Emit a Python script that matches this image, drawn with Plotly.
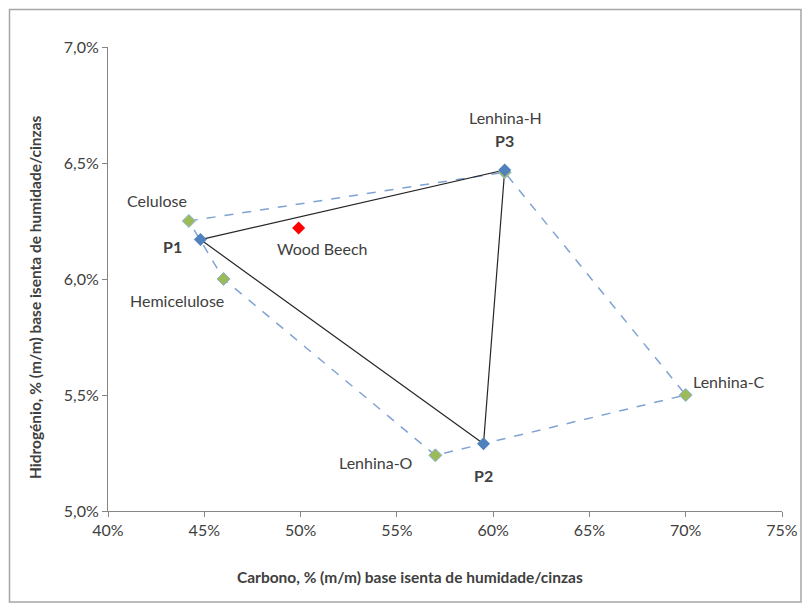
import plotly.graph_objects as go

# Components (green diamonds)
comp_names = ["Celulose", "Hemicelulose", "Lenhina-O", "Lenhina-C", "Lenhina-H"]
comp_c = [0.442, 0.460, 0.570, 0.700, 0.606]
comp_h = [0.0625, 0.0600, 0.0524, 0.0550, 0.0646]

# Polygon order of the dashed envelope
poly_order = ["Celulose", "Lenhina-H", "Lenhina-C", "Lenhina-O", "Hemicelulose", "Celulose"]

# Pseudo-components (blue diamonds)
p_names = ["P1", "P3", "P2"]
p_c = [0.448, 0.606, 0.595]
p_h = [0.0617, 0.0647, 0.0529]

# Sample
wb_name = ["Wood Beech"]
wb_c = [0.499]
wb_h = [0.0622]

x_ticks = [0.40, 0.45, 0.50, 0.55, 0.60, 0.65, 0.70, 0.75]
y_ticks = [0.050, 0.055, 0.060, 0.065, 0.070]

FONT = "Lato, 'Open Sans', sans-serif"

idx = {n: i for i, n in enumerate(comp_names)}
poly_x = [comp_c[idx[n]] for n in poly_order]
poly_y = [comp_h[idx[n]] for n in poly_order]

fig = go.Figure()
fig.add_trace(go.Scatter(x=poly_x, y=poly_y, mode="lines",
                         line=dict(color="#7FA3D3", width=1.5, dash="dash"),
                         hoverinfo="skip", showlegend=False))
fig.add_trace(go.Scatter(x=p_c + [p_c[0]], y=p_h + [p_h[0]], mode="lines",
                         line=dict(color="#262626", width=1.2),
                         hoverinfo="skip", showlegend=False))
fig.add_trace(go.Scatter(x=comp_c, y=comp_h, mode="markers",
                         marker=dict(symbol="diamond", size=10, color="#9BBB59",
                                     line=dict(color="#8FB0D8", width=1)),
                         showlegend=False))
fig.add_trace(go.Scatter(x=wb_c, y=wb_h, mode="markers",
                         marker=dict(symbol="diamond", size=10, color="#FF0000",
                                     line=dict(color="#FF0000", width=0)),
                         showlegend=False))
fig.add_trace(go.Scatter(x=p_c, y=p_h, mode="markers",
                         marker=dict(symbol="diamond", size=10, color="#4F81BD",
                                     line=dict(color="#4F81BD", width=0)),
                         showlegend=False))

# Label offsets (pixels): name -> (xshift, yshift, bold)
offsets = {
    "Celulose": (-32, 21, False),
    "Hemicelulose": (-47, -21, False),
    "Lenhina-O": (-59, -7, False),
    "Lenhina-C": (43, 14, False),
    "Lenhina-H": (1, 55, False),
    "P1": (-28, -7, True),
    "P3": (0, 29, True),
    "P2": (0, -32, True),
    "Wood Beech": (24, -21, False),
}
annotations = []
all_pts = list(zip(comp_names, comp_c, comp_h)) + list(zip(p_names, p_c, p_h)) + list(zip(wb_name, wb_c, wb_h))
for n, xv, yv in all_pts:
    dx, dy, b = offsets[n]
    annotations.append(dict(x=xv, y=yv, xref="x", yref="y", text=f"<b>{n}</b>" if b else n,
                            showarrow=False, xshift=dx, yshift=dy,
                            xanchor="center", yanchor="middle",
                            font=dict(family=FONT, size=16, color="#404040")))

annotations.append(dict(x=(410 - 108) / 674, y=(511 - 577) / 464, xref="paper", yref="paper",
                        text="<b>Carbono, % (m/m) base isenta de humidade/cinzas</b>",
                        xanchor="center", yanchor="middle",
                        showarrow=False, font=dict(family=FONT, size=15.5, color="#404040")))
annotations.append(dict(x=(35 - 108) / 674, y=(511 - 297) / 464, xref="paper", yref="paper",
                        text="<b>Hidrogénio, % (m/m) base isenta de humidade/cinzas</b>",
                        textangle=-90, showarrow=False, xanchor="center", yanchor="middle",
                        font=dict(family=FONT, size=15.5, color="#404040")))

fig.update_layout(
    width=810, height=608,
    margin=dict(l=100, r=36, t=39, b=105),
    paper_bgcolor="white", plot_bgcolor="white",
    separators=",.",
    annotations=annotations,
    shapes=[dict(type="rect", xref="paper", yref="paper",
                 x0=(9.5 - 108) / 674, x1=(801 - 108) / 674,
                 y0=(511 - 602) / 464, y1=(511 - 9.5) / 464,
                 line=dict(color="#A6A6A6", width=1.5), layer="below")],
    xaxis=dict(range=[0.40, 0.75], tickvals=x_ticks, tickformat=".0%",
               showgrid=False, zeroline=False, showline=True, linecolor="#868686",
               ticks="outside", ticklen=5, tickcolor="#868686",
               tickfont=dict(family=FONT, size=16, color="#404040")),
    yaxis=dict(range=[0.050, 0.070], tickvals=y_ticks, tickformat=".1%",
               showgrid=False, zeroline=False, showline=True, linecolor="#868686",
               ticks="outside", ticklen=5, tickcolor="#868686",
               tickfont=dict(family=FONT, size=16, color="#404040")),
)

fig.write_html("out.html")
